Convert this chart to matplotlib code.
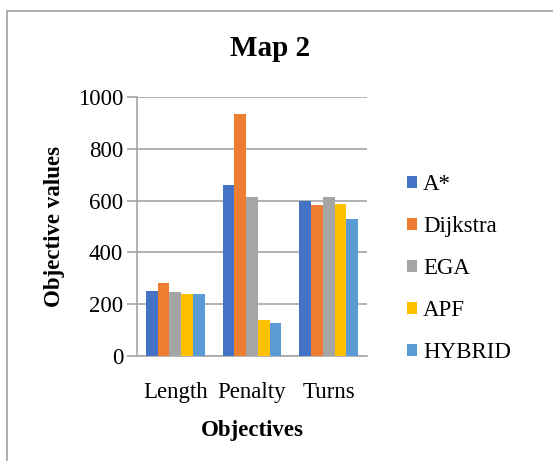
import matplotlib
import matplotlib.pyplot as plt
import numpy as np
from matplotlib.patches import Rectangle

matplotlib.use('agg')

plt.rcParams['font.family'] = ['Liberation Serif', 'DejaVu Serif']

categories = ["Length", "Penalty", "Turns"]
series = ["A*", "Dijkstra", "EGA", "APF", "HYBRID"]
values = {
    "A*": [250, 659, 598],
    "Dijkstra": [280, 933, 583],
    "EGA": [247, 614, 614],
    "APF": [238, 138, 588],
    "HYBRID": [238, 126, 528],
}
colors = ["#4472C4", "#ED7D31", "#A5A5A5", "#FFC000", "#5B9BD5"]
grid_gray = "#A6A6A6"

fig = plt.figure(figsize=(5.53, 4.61), dpi=100)
ax = fig.add_axes([0.2477, 0.2278, 0.4160, 0.5618])

# chart frame
fig.patches.append(Rectangle((7 / 553, -0.1), 1.1, 1 - 11 / 461 + 0.1,
                             transform=fig.transFigure, fill=False,
                             edgecolor="#A0A0A0", linewidth=1.2))

x = np.arange(len(categories))
width = 0.153
for i, (name, c) in enumerate(zip(series, colors)):
    offs = (i - 2) * width
    ax.bar(x + offs, values[name], width, color=c, label=name, zorder=3)

ax.set_xlim(-0.5, 2.5)
ax.set_ylim(0, 1000)
ax.set_yticks(range(0, 1001, 200))
ax.set_xticks(x)
ax.set_xticklabels(categories)
ax.yaxis.grid(True, color=grid_gray, linewidth=1.2, zorder=0)
ax.tick_params(axis='y', length=7, color=grid_gray, width=1.2, labelsize=16.5, pad=3)
ax.tick_params(axis='x', length=0, labelsize=16.5, pad=19)
for s in ["top", "right"]:
    ax.spines[s].set_visible(False)
for s in ["left", "bottom"]:
    ax.spines[s].set_color(grid_gray)
    ax.spines[s].set_linewidth(1.2)

fig.text(270 / 553, 1 - 48 / 461, "Map 2", fontsize=21, fontweight="bold",
         ha="center", va="center")
ax.set_ylabel("Objective values", fontsize=16.5, fontweight="bold", labelpad=9)
ax.set_xlabel("Objectives", fontsize=16.5, fontweight="bold", labelpad=12)

ax.legend(loc="center left", bbox_to_anchor=(1.133, 0.337), frameon=False,
          fontsize=16.5, handlelength=0.45, handleheight=0.45,
          handletextpad=0.25, labelspacing=0.92, borderaxespad=0)

fig.savefig("out.png", dpi=100)
